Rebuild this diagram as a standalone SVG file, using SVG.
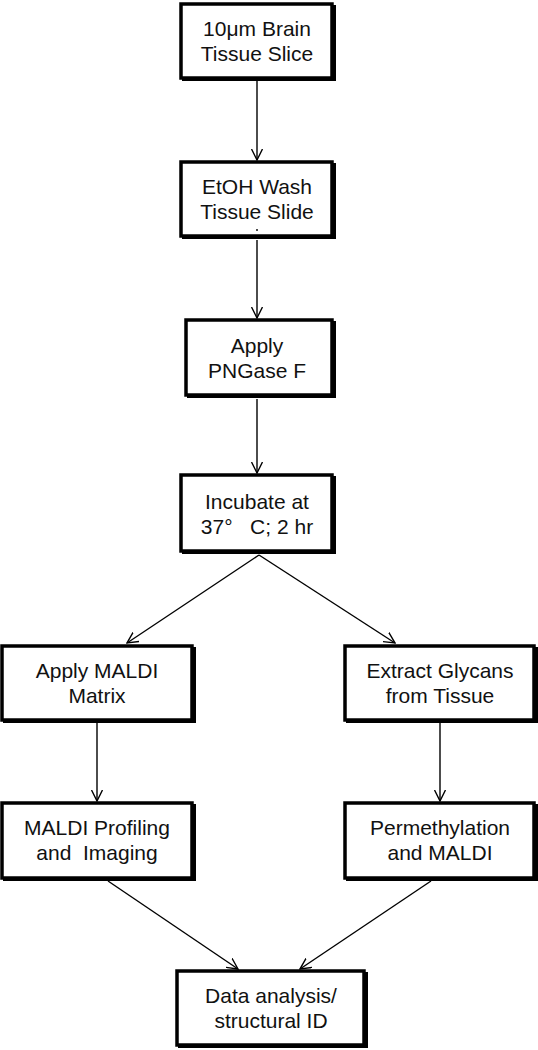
<svg xmlns="http://www.w3.org/2000/svg" width="538" height="1050" viewBox="0 0 538 1050">
<style>
.sh{fill:#000}
.bx{fill:#fff;stroke:#000;stroke-width:3.5}
.t{font-family:"Liberation Sans",Arial,sans-serif;font-size:21px;fill:#111;text-anchor:middle}
.c{stroke:#000;stroke-width:1.4;fill:none}
</style>
<defs>
<marker id="ah" viewBox="0 0 12 12" refX="11" refY="6" markerWidth="12" markerHeight="12" markerUnits="userSpaceOnUse" orient="auto">
<path d="M0,0.5 L11,6 L0,11.5" fill="none" stroke="#000" stroke-width="1.4"/>
</marker>
</defs>
<g id="connectors">
<line class="c" x1="257" y1="81" x2="257" y2="160" marker-end="url(#ah)"/>
<line class="c" x1="257" y1="240" x2="257" y2="318" marker-end="url(#ah)"/>
<line class="c" x1="257" y1="399" x2="257" y2="473" marker-end="url(#ah)"/>
<line class="c" x1="259" y1="555" x2="127" y2="643" marker-end="url(#ah)"/>
<line class="c" x1="259" y1="555" x2="395" y2="643" marker-end="url(#ah)"/>
<line class="c" x1="97" y1="723" x2="97" y2="801" marker-end="url(#ah)"/>
<line class="c" x1="440" y1="723" x2="440" y2="801" marker-end="url(#ah)"/>
<line class="c" x1="108" y1="881" x2="238" y2="969" marker-end="url(#ah)"/>
<line class="c" x1="431" y1="881" x2="300" y2="969" marker-end="url(#ah)"/>
</g>
<g id="n1">
<rect class="sh" x="182" y="5" width="154" height="76"/>
<rect class="bx" x="181" y="4" width="151" height="74"/>
<text class="t" x="257" y="36">10μm Brain</text>
<text class="t" x="257" y="61">Tissue Slice</text>
</g>
<g id="n2">
<rect class="sh" x="182" y="163" width="154" height="76"/>
<rect class="bx" x="181" y="162" width="151" height="74"/>
<text class="t" x="257" y="194">EtOH Wash</text>
<text class="t" x="257" y="219">Tissue Slide</text>
<rect x="256.3" y="229" width="1.4" height="2" fill="#000"/>
</g>
<g id="n3">
<rect class="sh" x="187" y="321" width="149" height="77"/>
<rect class="bx" x="186" y="320" width="146" height="75"/>
<text class="t" x="257" y="353">Apply</text>
<text class="t" x="257" y="378">PNGase F</text>
</g>
<g id="n4">
<rect class="sh" x="182" y="476" width="154" height="78"/>
<rect class="bx" x="181" y="475" width="151" height="76"/>
<text class="t" x="257" y="509">Incubate at</text>
<text class="t" x="257" y="534" xml:space="preserve">37°   C; 2 hr</text>
</g>
<g id="n5">
<rect class="sh" x="3" y="647" width="193" height="76"/>
<rect class="bx" x="2" y="646" width="190" height="74"/>
<text class="t" x="97" y="678">Apply MALDI</text>
<text class="t" x="97" y="703">Matrix</text>
</g>
<g id="n6">
<rect class="sh" x="346" y="647" width="192" height="76"/>
<rect class="bx" x="345" y="646" width="189" height="74"/>
<text class="t" x="440" y="678">Extract Glycans</text>
<text class="t" x="440" y="703">from Tissue</text>
</g>
<g id="n7">
<rect class="sh" x="3" y="804" width="193" height="77"/>
<rect class="bx" x="2" y="803" width="190" height="75"/>
<text class="t" x="97" y="835">MALDI Profiling</text>
<text class="t" x="97" y="860" xml:space="preserve">and  Imaging</text>
</g>
<g id="n8">
<rect class="sh" x="346" y="804" width="192" height="77"/>
<rect class="bx" x="345" y="803" width="189" height="75"/>
<text class="t" x="440" y="835">Permethylation</text>
<text class="t" x="440" y="860">and MALDI</text>
</g>
<g id="n9">
<rect class="sh" x="178" y="972" width="190" height="76"/>
<rect class="bx" x="177" y="971" width="187" height="74"/>
<text class="t" x="271" y="1003">Data analysis/</text>
<text class="t" x="271" y="1028">structural ID</text>
</g>
</svg>
